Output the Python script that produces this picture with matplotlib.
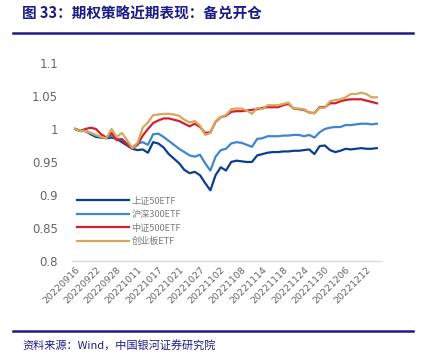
import matplotlib
matplotlib.use('Agg')
import matplotlib.pyplot as plt
from matplotlib.lines import Line2D

plt.rcParams['font.family'] = ['Noto Sans CJK SC', 'DejaVu Sans']

# --- DATA (trading days, net value) ---
dates = [
    '20220916', '20220919', '20220920', '20220921', '20220922', '20220923',
    '20220926', '20220927', '20220928', '20220929', '20220930',
    '20221010', '20221011', '20221012', '20221013', '20221014', '20221017',
    '20221018', '20221019', '20221020', '20221021', '20221024', '20221025',
    '20221026', '20221027', '20221028', '20221031',
    '20221101', '20221102', '20221103', '20221104', '20221107', '20221108',
    '20221109', '20221110', '20221111', '20221114', '20221115', '20221116',
    '20221117', '20221118', '20221121', '20221122', '20221123', '20221124',
    '20221125', '20221128', '20221129', '20221130',
    '20221201', '20221202', '20221205', '20221206', '20221207', '20221208',
    '20221209', '20221212', '20221213', '20221214',
]

sz50 = [1.000, 0.997, 0.997, 0.992, 0.988, 0.987, 0.986, 0.987, 0.985, 0.980,
        0.975, 0.970, 0.968, 0.969, 0.964, 0.980, 0.978, 0.972, 0.962, 0.955,
        0.948, 0.938, 0.933, 0.935, 0.930, 0.918, 0.907, 0.930, 0.942, 0.937,
        0.950, 0.952, 0.951, 0.950, 0.950, 0.960, 0.962, 0.964, 0.965, 0.965,
        0.966, 0.966, 0.967, 0.967, 0.968, 0.969, 0.962, 0.974, 0.975, 0.968,
        0.965, 0.967, 0.970, 0.969, 0.970, 0.971, 0.970, 0.970, 0.971]

hs300 = [1.000, 0.997, 0.997, 0.994, 0.990, 0.988, 0.987, 0.990, 0.985, 0.985,
         0.978, 0.972, 0.978, 0.980, 0.976, 0.992, 0.993, 0.988, 0.982, 0.976,
         0.970, 0.965, 0.960, 0.958, 0.961, 0.948, 0.937, 0.958, 0.968, 0.970,
         0.978, 0.980, 0.979, 0.976, 0.973, 0.985, 0.986, 0.989, 0.989, 0.989,
         0.990, 0.990, 0.991, 0.991, 0.989, 0.991, 0.987, 0.995, 1.000, 1.002,
         1.003, 1.003, 1.006, 1.006, 1.007, 1.008, 1.008, 1.007, 1.008]

zz500 = [1.000, 0.997, 1.000, 1.002, 1.000, 0.992, 0.987, 0.994, 0.983, 0.984,
         0.976, 0.971, 0.976, 0.990, 1.000, 1.009, 1.013, 1.016, 1.016, 1.014,
         1.012, 1.008, 1.004, 1.008, 1.003, 0.994, 0.995, 1.011, 1.018, 1.020,
         1.026, 1.027, 1.027, 1.028, 1.029, 1.030, 1.032, 1.033, 1.033, 1.033,
         1.036, 1.038, 1.031, 1.030, 1.029, 1.025, 1.024, 1.033, 1.033, 1.039,
         1.039, 1.042, 1.044, 1.045, 1.045, 1.045, 1.043, 1.041, 1.039]

cyb = [1.000, 0.997, 0.997, 0.994, 0.991, 0.988, 0.986, 1.000, 0.988, 0.994,
       0.983, 0.971, 0.979, 1.002, 1.010, 1.021, 1.022, 1.023, 1.023, 1.022,
       1.020, 1.014, 1.010, 1.012, 1.005, 0.991, 0.994, 1.012, 1.018, 1.021,
       1.030, 1.031, 1.031, 1.028, 1.023, 1.032, 1.030, 1.036, 1.036, 1.036,
       1.038, 1.040, 1.031, 1.031, 1.030, 1.025, 1.024, 1.032, 1.032, 1.042,
       1.044, 1.045, 1.048, 1.053, 1.053, 1.055, 1.053, 1.048, 1.048]

series = [
    ('上证50ETF', sz50, '#0b3f8c'),
    ('沪深300ETF', hs300, '#3d86d0'),
    ('中证500ETF', zz500, '#d21f2d'),
    ('创业板ETF', cyb, '#d6a85c'),
]
yticks = [0.8, 0.85, 0.9, 0.95, 1.0, 1.05, 1.1]
ytick_labels = ['0.8', '0.85', '0.9', '0.95', '1', '1.05', '1.1']

NAVY = '#1c1c86'
GRAY = '#666666'

fig = plt.figure(figsize=(4.21, 3.56), dpi=100)
ax = fig.add_axes([0.171, 0.267, 0.734, 0.556])

x = list(range(len(dates)))
for name, vals, col in series:
    ax.plot(x, vals, color=col, lw=1.6, label=name, solid_joinstyle='round')

ax.set_ylim(0.8, 1.1)
ax.set_xlim(-0.6, 58.8)
ax.set_yticks(yticks)
ax.set_yticklabels(ytick_labels, fontsize=8.5, color=GRAY, family='DejaVu Sans')
tick_idx = x[::4][:15]
ax.set_xticks(tick_idx)
ax.set_xticklabels([dates[i] for i in tick_idx], rotation=45, ha='right',
                   rotation_mode='anchor', fontsize=6.8, color=GRAY,
                   family='DejaVu Sans')
ax.tick_params(axis='both', length=0, pad=3)
ax.tick_params(axis='y', pad=10)
for s in ['top', 'right', 'left']:
    ax.spines[s].set_visible(False)
ax.spines['bottom'].set_color('#d9d9d9')
ax.spines['bottom'].set_linewidth(1.0)

leg = ax.legend(loc='lower left', bbox_to_anchor=(0.005, 0.055), frameon=False,
                fontsize=6.6, handlelength=5.6, handletextpad=0.3,
                labelspacing=0.5, borderaxespad=0)
for t in leg.get_texts():
    t.set_color('#7a7a7a')

# title, rules and source
fig.text(22 / 421, 1 - 14 / 356, '图 33：期权策略近期表现：备兑开仓', fontsize=10.5,
         fontweight='bold', color=NAVY, va='center', ha='left')
fig.add_artist(Line2D([13 / 421, 413 / 421], [1 - 32.5 / 356, 1 - 32.5 / 356],
                      color=NAVY, lw=1.8))
fig.add_artist(Line2D([13 / 421, 413 / 421], [1 - 331 / 356, 1 - 331 / 356],
                      color=NAVY, lw=1.8))
fig.text(22 / 421, 1 - 345 / 356, '资料来源：Wind，中国银河证券研究院', fontsize=8,
         color=NAVY, va='center', ha='left', style='italic')

fig.savefig('out.png', dpi=100)
